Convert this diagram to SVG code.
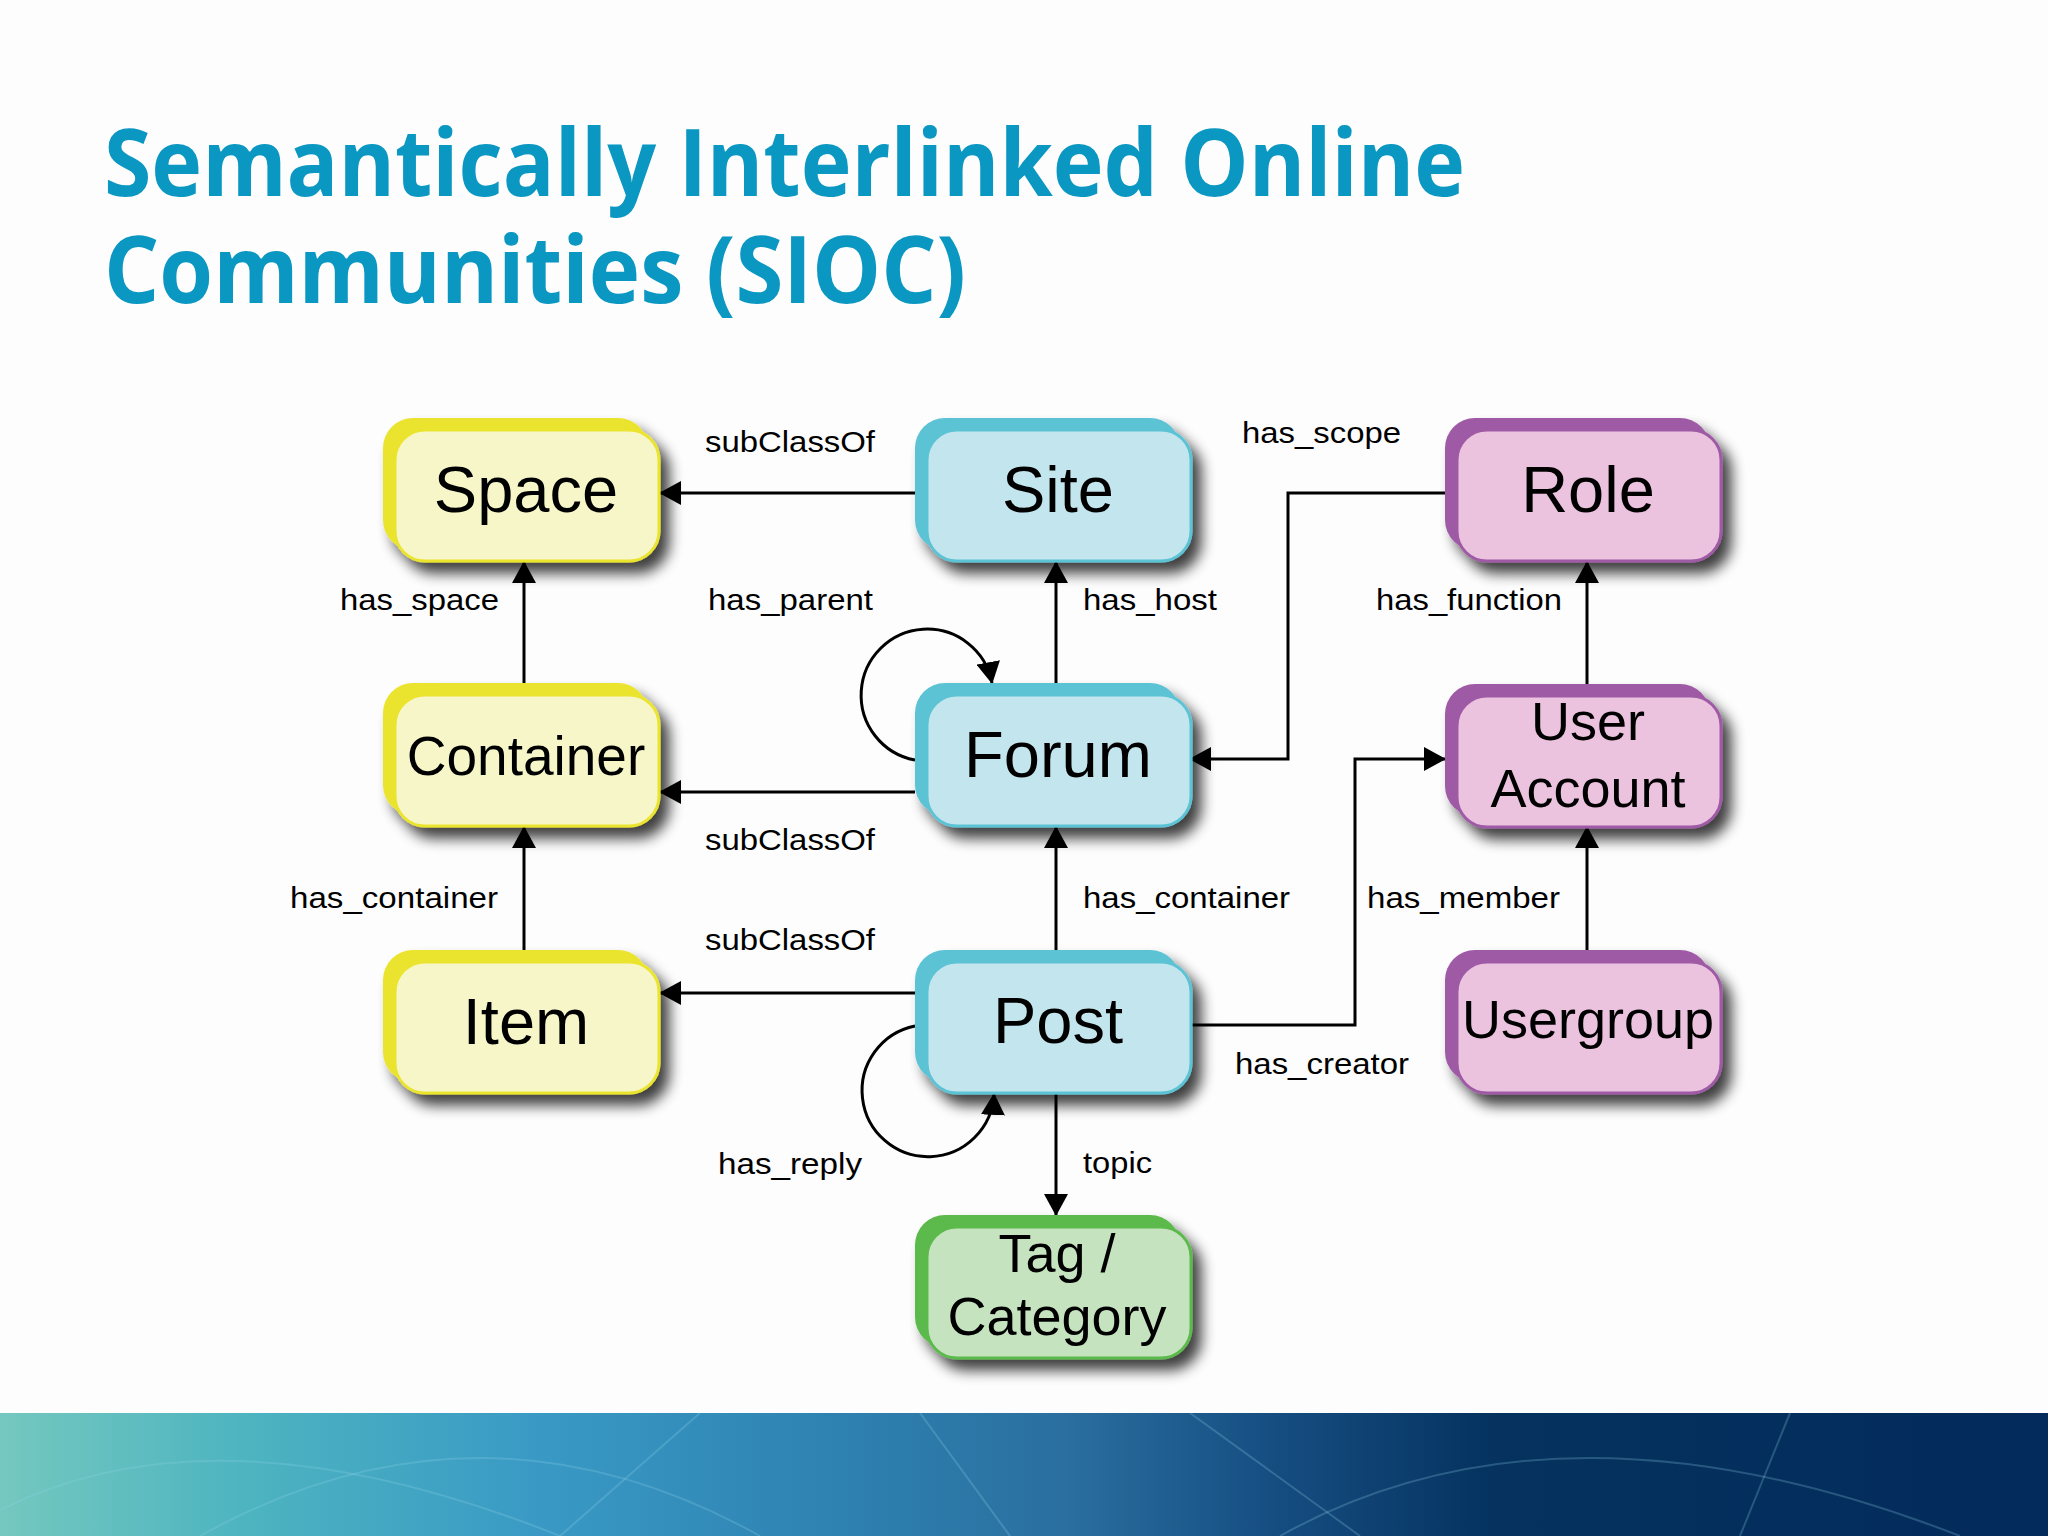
<svg xmlns="http://www.w3.org/2000/svg" width="2048" height="1536" viewBox="0 0 2048 1536">
<defs>
<style>
.title{font-family:"Open Sans","DejaVu Sans",sans-serif;font-weight:700;fill:#0a97c1;font-size:94px}
.nt{font-family:"Liberation Sans",Arial,sans-serif;fill:#000;text-anchor:middle}
.lbl{font-family:"Liberation Sans",Arial,sans-serif;fill:#000;font-size:30px}
.edge{fill:none;stroke:#000;stroke-width:3}
.y1{fill:#ebe42e}.y2{fill:#f7f6c9;stroke:#ebe42e;stroke-width:3}
.b1{fill:#5cc3d5}.b2{fill:#c3e5ed;stroke:#5cc3d5;stroke-width:3}
.p1{fill:#9f5aa5}.p2{fill:#ebc3df;stroke:#9f5aa5;stroke-width:3}
.g1{fill:#5cb94c}.g2{fill:#c6e3c0;stroke:#5cb94c;stroke-width:3}
.deco{fill:none;stroke:#8fd3e6;stroke-width:2;opacity:0.25}
</style>
<filter id="sh" x="-20%" y="-20%" width="150%" height="160%">
<feGaussianBlur in="SourceAlpha" stdDeviation="7"/>
<feOffset dx="9" dy="11" result="b"/>
<feComponentTransfer><feFuncA type="linear" slope="0.75"/></feComponentTransfer>
<feMerge><feMergeNode/><feMergeNode in="SourceGraphic"/></feMerge>
</filter>
<marker id="ah" markerUnits="userSpaceOnUse" markerWidth="22" markerHeight="24" viewBox="0 0 22 24" refX="21" refY="12" orient="auto">
<path d="M0 0 L22 12 L0 24 Z" fill="#000"/>
</marker>
<linearGradient id="band" x1="0" y1="0" x2="1" y2="0">
<stop offset="0" stop-color="#74c8bf"/>
<stop offset="0.12" stop-color="#4db4c0"/>
<stop offset="0.26" stop-color="#3a9ac5"/>
<stop offset="0.4" stop-color="#2e83b2"/>
<stop offset="0.52" stop-color="#2a6f9f"/>
<stop offset="0.62" stop-color="#164e82"/>
<stop offset="0.73" stop-color="#05325f"/>
<stop offset="1" stop-color="#032b5b"/>
</linearGradient>
</defs>
<rect x="0" y="0" width="2048" height="1536" fill="#fdfdfe"/>
<g id="footer">
<rect x="0" y="1413" width="2048" height="123" fill="url(#band)"/>
<path class="deco" d="M0 1510 Q220 1400 560 1536"/>
<path class="deco" d="M200 1536 Q480 1380 760 1536"/>
<path class="deco" d="M1280 1536 Q1560 1380 1960 1536"/>
<path class="deco" d="M1190 1413 L1360 1536"/>
<path class="deco" d="M700 1413 L560 1536"/>
<path class="deco" d="M920 1413 L1010 1536"/>
<path class="deco" d="M1790 1413 L1740 1536"/>
</g>
<g id="title">
<text class="title" x="104" y="196" textLength="1361" lengthAdjust="spacingAndGlyphs">Semantically Interlinked Online</text>
<text class="title" x="104" y="303" textLength="862" lengthAdjust="spacingAndGlyphs">Communities (SIOC)</text>
</g>
<g id="connectors">
<path class="edge" d="M915 493 L660 493" marker-end="url(#ah)"/>
<path class="edge" d="M524 683 L524 562" marker-end="url(#ah)"/>
<path class="edge" d="M1056 683 L1056 562" marker-end="url(#ah)"/>
<path class="edge" d="M915 760 A66 66 0 1 1 992 683" marker-end="url(#ah)"/>
<path class="edge" d="M1445 493 L1288 493 L1288 759 L1190 759" marker-end="url(#ah)"/>
<path class="edge" d="M1587 685 L1587 562" marker-end="url(#ah)"/>
<path class="edge" d="M915 792 L660 792" marker-end="url(#ah)"/>
<path class="edge" d="M524 950 L524 827" marker-end="url(#ah)"/>
<path class="edge" d="M1056 950 L1056 827" marker-end="url(#ah)"/>
<path class="edge" d="M1190 1025 L1355 1025 L1355 759 L1445 759" marker-end="url(#ah)"/>
<path class="edge" d="M1587 950 L1587 827" marker-end="url(#ah)"/>
<path class="edge" d="M915 993 L660 993" marker-end="url(#ah)"/>
<path class="edge" d="M915 1026 A66 66 0 1 0 994 1094" marker-end="url(#ah)"/>
<path class="edge" d="M1056 1093 L1056 1215" marker-end="url(#ah)"/>
</g>
<g id="labels">
<text class="lbl" x="705" y="452" textLength="170" lengthAdjust="spacingAndGlyphs">subClassOf</text>
<text class="lbl" x="1242" y="443" textLength="159" lengthAdjust="spacingAndGlyphs">has_scope</text>
<text class="lbl" x="340" y="610" textLength="159" lengthAdjust="spacingAndGlyphs">has_space</text>
<text class="lbl" x="708" y="610" textLength="165" lengthAdjust="spacingAndGlyphs">has_parent</text>
<text class="lbl" x="1083" y="610" textLength="134" lengthAdjust="spacingAndGlyphs">has_host</text>
<text class="lbl" x="1376" y="610" textLength="186" lengthAdjust="spacingAndGlyphs">has_function</text>
<text class="lbl" x="705" y="850" textLength="170" lengthAdjust="spacingAndGlyphs">subClassOf</text>
<text class="lbl" x="290" y="908" textLength="208" lengthAdjust="spacingAndGlyphs">has_container</text>
<text class="lbl" x="1083" y="908" textLength="207" lengthAdjust="spacingAndGlyphs">has_container</text>
<text class="lbl" x="1367" y="908" textLength="193" lengthAdjust="spacingAndGlyphs">has_member</text>
<text class="lbl" x="705" y="950" textLength="170" lengthAdjust="spacingAndGlyphs">subClassOf</text>
<text class="lbl" x="1235" y="1074" textLength="174" lengthAdjust="spacingAndGlyphs">has_creator</text>
<text class="lbl" x="718" y="1174" textLength="144" lengthAdjust="spacingAndGlyphs">has_reply</text>
<text class="lbl" x="1083" y="1173" textLength="69" lengthAdjust="spacingAndGlyphs">topic</text>
</g>
<g id="node-space" filter="url(#sh)">
<rect class="y1" x="383" y="418" width="265" height="132" rx="30"/>
<rect class="y2" x="395" y="430" width="264" height="131" rx="30"/>
<text class="nt" x="526" y="512" font-size="65">Space</text>
</g>
<g id="node-site" filter="url(#sh)">
<rect class="b1" x="915" y="418" width="265" height="132" rx="30"/>
<rect class="b2" x="927" y="430" width="264" height="131" rx="30"/>
<text class="nt" x="1058" y="512" font-size="65">Site</text>
</g>
<g id="node-role" filter="url(#sh)">
<rect class="p1" x="1445" y="418" width="265" height="132" rx="30"/>
<rect class="p2" x="1457" y="430" width="264" height="131" rx="30"/>
<text class="nt" x="1588" y="512" font-size="65">Role</text>
</g>
<g id="node-container" filter="url(#sh)">
<rect class="y1" x="383" y="683" width="265" height="132" rx="30"/>
<rect class="y2" x="395" y="695" width="264" height="131" rx="30"/>
<text class="nt" x="526" y="775" font-size="55">Container</text>
</g>
<g id="node-forum" filter="url(#sh)">
<rect class="b1" x="915" y="683" width="265" height="132" rx="30"/>
<rect class="b2" x="927" y="695" width="264" height="131" rx="30"/>
<text class="nt" x="1058" y="777" font-size="65">Forum</text>
</g>
<g id="node-useraccount" filter="url(#sh)">
<rect class="p1" x="1445" y="684" width="265" height="132" rx="30"/>
<rect class="p2" x="1457" y="696" width="264" height="131" rx="30"/>
<text class="nt" x="1588" y="740" font-size="54">User</text>
<text class="nt" x="1588" y="807" font-size="54">Account</text>
</g>
<g id="node-item" filter="url(#sh)">
<rect class="y1" x="383" y="950" width="265" height="132" rx="30"/>
<rect class="y2" x="395" y="962" width="264" height="131" rx="30"/>
<text class="nt" x="526" y="1044" font-size="65">Item</text>
</g>
<g id="node-post" filter="url(#sh)">
<rect class="b1" x="915" y="950" width="265" height="132" rx="30"/>
<rect class="b2" x="927" y="962" width="264" height="131" rx="30"/>
<text class="nt" x="1058" y="1043" font-size="65">Post</text>
</g>
<g id="node-usergroup" filter="url(#sh)">
<rect class="p1" x="1445" y="950" width="265" height="132" rx="30"/>
<rect class="p2" x="1457" y="962" width="264" height="131" rx="30"/>
<text class="nt" x="1588" y="1038" font-size="54">Usergroup</text>
</g>
<g id="node-tag" filter="url(#sh)">
<rect class="g1" x="915" y="1215" width="265" height="132" rx="30"/>
<rect class="g2" x="927" y="1227" width="264" height="131" rx="30"/>
<text class="nt" x="1057" y="1272" font-size="54">Tag /</text>
<text class="nt" x="1057" y="1335" font-size="54">Category</text>
</g>
</svg>
